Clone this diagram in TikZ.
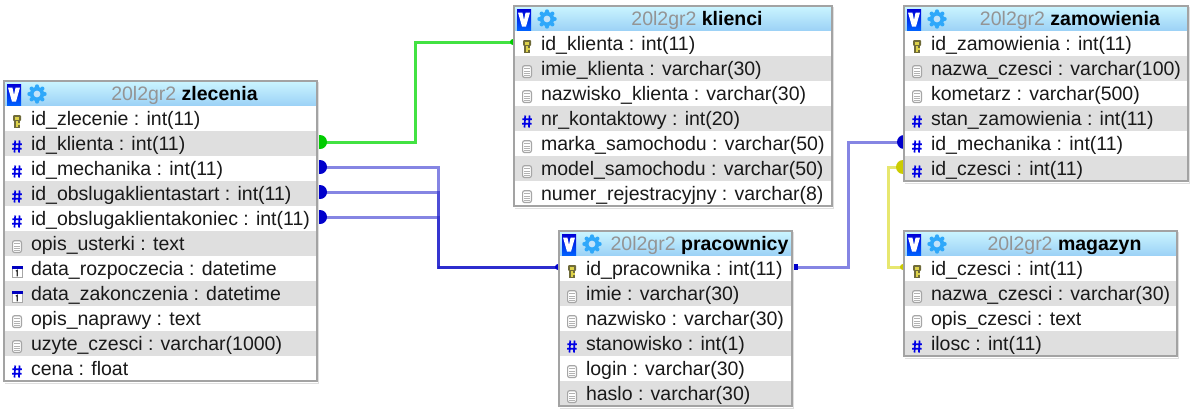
\documentclass[tikz,border=0pt]{standalone}
\usepackage{fontspec}
\setmainfont{Liberation Sans}
\usetikzlibrary{backgrounds,calc}
\definecolor{rowgrey}{HTML}{DFDFDF}
\definecolor{framegrey}{HTML}{A3A3A3}
\definecolor{headtop}{HTML}{CBF5FF}
\definecolor{headbot}{HTML}{9BD1F6}
\definecolor{linkgreen}{HTML}{22DD22}
\definecolor{dotgreen}{HTML}{00CC00}
\definecolor{linkblue}{HTML}{2222CC}
\definecolor{dotblue}{HTML}{0000CC}
\definecolor{linkyellow}{HTML}{DDDD33}
\definecolor{dotyellow}{HTML}{CCCC00}
\definecolor{gearblue}{HTML}{2FA8FA}
\definecolor{keydark}{HTML}{6F6B3A}
\definecolor{keylight}{HTML}{DDD24A}
\tikzset{
  x=1pt,y=-1pt,
  rowbox/.style={draw=none,rectangle,inner sep=0pt,outer sep=0pt,anchor=north west,minimum height=25pt},
  rowtext/.style={inner sep=0pt,outer sep=0pt,anchor=base west,font=\fontsize{19.5}{21}\selectfont,text=black!90},
  headtext/.style={inner sep=0pt,outer sep=0pt,anchor=base,font=\fontsize{19.5}{21}\selectfont},
  tableframe/.style={draw=framegrey,line width=2pt,fill=none,rectangle,inner sep=0pt},
  link/.style={line width=3pt,opacity=.55,line join=miter},
  linkg/.style={link,draw=linkgreen,opacity=.85},
  linkb/.style={link,draw=linkblue},
  linky/.style={link,draw=linkyellow,opacity=.7},
}
\newcommand{\icok}{%
  \fill[keydark,rounded corners=1pt] (-4,-6.5) rectangle (4,-.5);
  \fill[keylight] (-2.2,-5) rectangle (2.2,-2);
  \fill[keydark] (-3,-.5) rectangle (3,6);
  \fill[keylight] (-1.2,-.5) rectangle (.8,5);
  \fill[keylight] (.8,1.5) rectangle (2.6,3);
}
\newcommand{\icoh}{%
  \draw[line width=1.7pt,blue!90!black] (-1.8,-6) -- (-2.5,6) (2.6,-6) -- (1.9,6) (-4.6,-2.2) -- (4.8,-2.2) (-4.8,2.3) -- (4.6,2.3);
}
\newcommand{\icod}{%
  \draw[line width=1.2pt,gray!70,fill=white,rounded corners=2pt] (-4.4,-5.8) rectangle (4.4,6);
  \draw[line width=1pt,gray!60] (-2.6,-3) -- (2.6,-3) (-2.6,-.5) -- (2.6,-.5) (-2.6,2) -- (2.6,2) (-2.6,4.2) -- (2.6,4.2);
}
\newcommand{\icoc}{%
  \draw[line width=1pt,gray!70,fill=white] (-5,-4.5) rectangle (5,6);
  \fill[blue!75!black] (-5.5,-5.5) rectangle (5.5,-2.5);
  \draw[line width=1.2pt,black!80] (-1.2,-.5) -- (.3,-1.2) -- (.3,4.8);
}
\newcommand{\icogear}{%
  \foreach \a in {0,45,...,315} \fill[gearblue] (\a:7.6) circle (2.1);
  \fill[gearblue] (0,0) circle (7.2);
  \fill[headbot!60!white] (0,0) circle (3.4);
}
% name, x, y, width, grey prefix, bold title, rows
\newcommand{\dbtable}[7]{%
  \pgfmathsetmacro{\hx}{#2+#4}%
  \pgfmathsetmacro{\tx}{#2+(48+#4)/2}%
  \node[rowbox,minimum width=#4pt,top color=headtop,bottom color=headbot] (#1-head) at (#2,#3) {};
  \shade[top color=blue!85!black,bottom color=blue!60!cyan] (#2+3,#3+3) rectangle (#2+17,#3+25);
  \fill[white] (#2+4,#3+6.5) -- (#2+8.4,#3+6.5) -- (#2+10,#3+14) -- (#2+11.6,#3+6.5) -- (#2+16,#3+6.5) -- (#2+12,#3+20.5) -- (#2+8,#3+20.5) -- cycle;
  \begin{scope}[shift={(#2+33,#3+13)}]\icogear\end{scope}
  \node[headtext] (#1-title) at (\tx,#3+19.5) {\textcolor{black!42}{#5} \textbf{#6}};
  \foreach \ic/\tx [count=\i] in {#7}{%
    \pgfmathtruncatemacro{\isodd}{mod(\i,2)}%
    \pgfmathsetmacro{\ry}{#3+25+25*(\i-1)}%
    \ifnum\isodd=1\def\rc{white}\else\def\rc{rowgrey}\fi
    \node[rowbox,minimum width=#4pt,fill=\rc] (#1-\i) at (#2,\ry) {};
    \begin{scope}[shift={(#2+13,\ry+15.5)}]\csname ico\ic\endcsname\end{scope}
    \node[rowtext] (#1-\i-t) at (#2+27,\ry+19.2) {\tx};
    \xdef\lastry{\ry}%
  }
  \draw[tableframe] (#2,#3) rectangle (\hx,\lastry+25);
  \draw[gray!25,line width=1pt] (#2+1,\lastry+27) -- (\hx+1,\lastry+27) -- (\hx+1,#3+1);
}
\pgfdeclarelayer{conn}
\pgfsetlayers{conn,main}
\begin{document}
\begin{tikzpicture}
\useasboundingbox (0,0) rectangle (1193,410);
\begin{pgfonlayer}{conn}
  \fill[white] (0,0) rectangle (1193,410);
\end{pgfonlayer}

\dbtable{zl}{4}{81}{313}{20l2gr2}{zlecenia}{k/id\_zlecenie : int(11),h/id\_klienta : int(11),h/id\_mechanika : int(11),h/id\_obslugaklientastart : int(11),h/id\_obslugaklientakoniec : int(11),d/opis\_usterki : text,c/data\_rozpoczecia : datetime,c/data\_zakonczenia : datetime,d/opis\_naprawy : text,d/uzyte\_czesci : varchar(1000),h/cena : float}
\dbtable{kl}{514}{6}{318}{20l2gr2}{klienci}{k/id\_klienta : int(11),d/imie\_klienta : varchar(30),d/nazwisko\_klienta : varchar(30),h/nr\_kontaktowy : int(20),d/marka\_samochodu : varchar(50),d/model\_samochodu : varchar(50),d/numer\_rejestracyjny : varchar(8)}
\dbtable{za}{904}{6}{284}{20l2gr2}{zamowienia}{k/id\_zamowienia : int(11),d/nazwa\_czesci : varchar(100),d/kometarz : varchar(500),h/stan\_zamowienia : int(11),h/id\_mechanika : int(11),h/id\_czesci : int(11)}
\dbtable{pr}{559}{231}{233}{20l2gr2}{pracownicy}{k/id\_pracownika : int(11),d/imie : varchar(30),d/nazwisko : varchar(30),h/stanowisko : int(1),d/login : varchar(30),d/haslo : varchar(30)}
\dbtable{ma}{904}{231}{273}{20l2gr2}{magazyn}{k/id\_czesci : int(11),d/nazwa\_czesci : varchar(30),d/opis\_czesci : text,h/ilosc : int(11)}

\begin{pgfonlayer}{conn}
  % green
  \draw[linkg] ([yshift=1.5pt]zl-2.east) -| ($(zl-2.east)!.5!(kl-1.west)$) |- ([yshift=1.5pt]kl-1.west);
  \fill[dotgreen] ([xshift=3pt,yshift=1.5pt]zl-2.east) circle (7);
  \fill[dotgreen] ([xshift=-1pt,yshift=1.5pt]kl-1.west) circle (3);
  % blue, three into one
  \coordinate (bus) at ($(zl-3.east)+(121,0)$);
  \foreach \r in {3,4,5}{
    \draw[linkb] ([yshift=1.5pt]zl-\r.east) -| (bus |- pr-1.west);
    \fill[dotblue] ([xshift=3pt,yshift=1.5pt]zl-\r.east) circle (7);
  }
  \draw[link,draw=linkblue,opacity=.95] ([yshift=1.5pt]bus |- pr-1.west) -- ([yshift=1.5pt]pr-1.west);
  \fill[dotblue] ([xshift=-1pt,yshift=1.5pt]pr-1.west) circle (3);
  % pracownicy to zamowienia
  \draw[linkb] ([yshift=1.5pt]pr-1.east) -| ($(pr-1.east)!.5!(za-5.west)$) |- ([yshift=1.5pt]za-5.west);
  \fill[dotblue] ([xshift=3pt,yshift=1.5pt]pr-1.east) ++(-3,-3) rectangle ++(6,6);
  \fill[dotblue] ([yshift=1.5pt]za-5.west) circle (7);
  % yellow
  \draw[linky] ([yshift=1.5pt]za-6.west) -- ++(-16,0) |- ([yshift=1.5pt]ma-1.west);
  \fill[dotyellow] ([xshift=-1pt,yshift=1.5pt]za-6.west) circle (7);
  \fill[dotyellow] ([xshift=-1pt,yshift=1.5pt]ma-1.west) circle (3);
\end{pgfonlayer}
\end{tikzpicture}
\end{document}
